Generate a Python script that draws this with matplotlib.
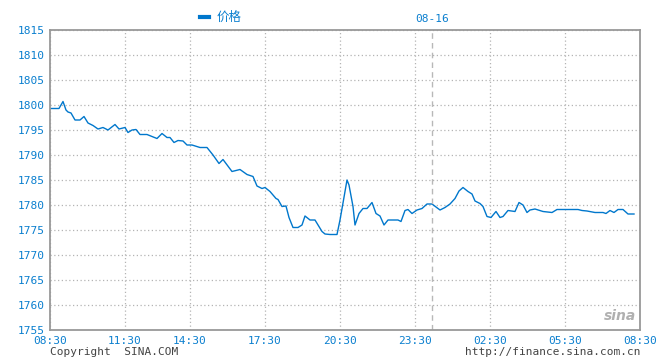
import matplotlib
matplotlib.use("Agg")
import matplotlib.pyplot as plt

# positions along the (uneven) time axis, and prices
pos = [0, 9, 13, 16, 18, 21, 25, 30, 34, 38, 43, 48, 53, 58, 65, 69, 75, 78, 82, 86,
       90, 97, 107, 112, 117, 120, 124, 128, 133, 137, 142, 150, 157, 163, 169, 173,
       182, 190, 197, 203, 207, 212, 215, 220, 226, 228, 232, 236, 239, 243, 248, 252,
       255, 260, 265, 272, 275, 280, 287, 290, 293, 297, 299, 303, 305, 309, 313, 317,
       322, 326, 330, 334, 338, 348, 351, 355, 358, 362, 367, 372, 377, 382, 390, 395,
       400, 405, 409, 413, 418, 422, 425, 430, 433, 437, 441, 446, 450, 453, 458, 465,
       469, 473, 477, 480, 485, 493, 502, 507, 528, 532, 537, 545, 553, 556, 560, 564,
       568, 573, 578, 584]
price = [1799.3, 1799.3, 1800.7, 1799.0, 1798.6, 1798.4, 1797.0, 1797.0, 1797.7, 1796.4,
         1795.9, 1795.2, 1795.5, 1795.0, 1796.1, 1795.2, 1795.5, 1794.5, 1795.0, 1795.1,
         1794.1, 1794.1, 1793.3, 1794.3, 1793.5, 1793.5, 1792.5, 1792.9, 1792.8, 1792.0,
         1792.0, 1791.5, 1791.5, 1790.0, 1788.3, 1789.1, 1786.7, 1787.1, 1786.1, 1785.7,
         1783.8, 1783.3, 1783.5, 1782.7, 1781.3, 1781.1, 1779.7, 1779.8, 1777.5, 1775.5,
         1775.5, 1776.0, 1777.8, 1777.0, 1777.0, 1774.7, 1774.2, 1774.1, 1774.1, 1777.0,
         1780.4, 1785.0, 1784.0, 1779.7, 1776.0, 1778.3, 1779.3, 1779.3, 1780.5, 1778.3,
         1777.8, 1776.0, 1777.0, 1777.0, 1776.7, 1778.9, 1779.1, 1778.3, 1779.0, 1779.3,
         1780.2, 1780.2, 1779.0, 1779.5, 1780.2, 1781.3, 1782.8, 1783.5, 1782.7, 1782.2,
         1780.8, 1780.3, 1779.7, 1777.7, 1777.5, 1778.7, 1777.5, 1777.7, 1778.9, 1778.7,
         1780.5, 1780.0, 1778.5, 1779.0, 1779.2, 1778.7, 1778.5, 1779.1, 1779.1, 1778.9,
         1778.8, 1778.5, 1778.5, 1778.3, 1778.9, 1778.5, 1779.1, 1779.1, 1778.2, 1778.2]

tick_pos = [0, 75, 140, 215, 290, 365, 440, 515, 590]
tick_labels = ["08:30", "11:30", "14:30", "17:30", "20:30", "23:30", "02:30", "05:30", "08:30"]
y_ticks = list(range(1755, 1816, 5))
day_pos = 382
day_label = "08-16"

blue = "#0a7fcf"
grey = "#999999"
mono = "DejaVu Sans Mono"

fig = plt.figure(figsize=(6.6, 3.6), dpi=100)
ax = fig.add_axes([50 / 660, 30 / 360, 590 / 660, 300 / 360])

ax.plot(pos, price, color="#0077cc", linewidth=1.0, label="价格")
ax.axvline(day_pos, color="#b8b8b8", linestyle=(0, (4, 3)), linewidth=1.0)

ax.set_xlim(0, 590)
ax.set_ylim(1755, 1815)
ax.set_xticks(tick_pos)
ax.set_xticklabels(tick_labels)
ax.set_yticks(y_ticks)
ax.grid(True, color="#b4b4b4", linestyle=(0, (1, 2)), linewidth=0.9)
ax.tick_params(length=0, colors=blue, labelsize=8)
for lab in ax.get_xticklabels() + ax.get_yticklabels():
    lab.set_family(mono)
ax.tick_params(axis="x", pad=4)
ax.tick_params(axis="y", pad=4)
for s in ax.spines.values():
    s.set_color(grey)
    s.set_linewidth(1.3)

ax.text(day_pos, 1816.2, day_label, color=blue, fontsize=8, family=mono,
        ha="center", va="bottom")

leg = fig.legend(loc="upper left", bbox_to_anchor=(189 / 660, 1.0), frameon=False,
                 handlelength=0.7, handletextpad=0.6,
                 prop={"family": ["Noto Sans CJK SC", "DejaVu Sans"], "size": 9})
for h in leg.legend_handles:
    h.set_linewidth(3)
for t in leg.get_texts():
    t.set_color(blue)

fig.text(50 / 660, 1 - 352 / 360, "Copyright  SINA.COM", color="#444444", fontsize=8,
         family=mono, va="center", ha="left")
fig.text(640 / 660, 1 - 352 / 360, "http://finance.sina.com.cn", color="#444444",
         fontsize=8, family=mono, va="center", ha="right")
fig.text(636 / 660, 1 - 316 / 360, "sina", color="#b0b0b0", fontsize=10,
         fontweight="bold", style="italic", va="center", ha="right")

fig.savefig("out.png", dpi=100)
